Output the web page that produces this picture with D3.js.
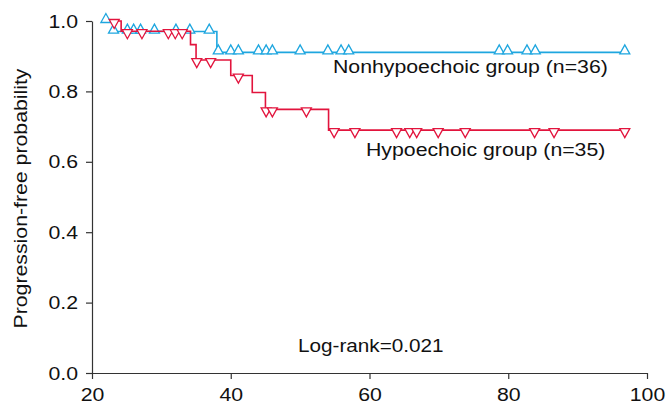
<!DOCTYPE html>
<meta charset="utf-8">
<head>
	<title>Progression-free probability</title>
	<script src="https://cdn.jsdelivr.net/npm/d3@7"></script>
	<style>
		body { margin: 0; background: #fff; }
		text { font-family: Arial, "Liberation Sans", sans-serif; fill: #111; }
		.axis path, .axis line { stroke: #333; stroke-width: 1.2; }
		.axis text { font-size: 19px; fill: #111; }
	</style>
</head>
<body>
<div id="chart"></div>
<script>
	// step points: [time, survival after this time]
	var blueSteps = [[22.0, 1.0], [23.0, 0.970], [38.0, 0.911]];
	var redSteps = [[23.2, 1.0], [24.2, 0.971], [34.2, 0.933], [35.0, 0.889], [40.0, 0.845], [43.1, 0.797], [45.0, 0.749], [54.1, 0.690]];
	var curveEnd = 96.8;

	// censored times (triangles)
	var blueCensor = [22.0, 23.1, 25.1, 26.0, 27.0, 29.0, 32.1, 34.1, 36.9,
		38.2, 40.0, 41.1, 44.0, 45.1, 46.0, 50.0, 54.0, 55.9, 57.0, 78.7, 79.9, 82.7, 83.9, 96.8];
	var redCensor = [23.2, 25.1, 27.2, 31.0, 32.0, 33.0, 35.1, 37.1, 41.1, 45.1, 46.0, 50.9,
		54.9, 57.9, 63.9, 65.8, 66.8, 69.9, 73.8, 83.8, 86.6, 96.8];

	var xTicks = [20, 40, 60, 80, 100];
	var yTicks = [0.0, 0.2, 0.4, 0.6, 0.8, 1.0];

	var w = 668, h = 403;
	var blue = "#1ea6df", red = "#e2143d";
	var stretch = 1.12; // the source text is a bit wider than Arial

	var svg = d3.select("#chart").append("svg").attr("width", w).attr("height", h);

	var x = d3.scaleLinear().domain([20, 100]).range([92, 647]);
	var y = d3.scaleLinear().domain([0, 1]).range([373, 21]);

	svg.append("g").attr("class", "axis")
		.attr("transform", "translate(0,373)")
		.call(d3.axisBottom(x).tickValues(xTicks).tickFormat(d3.format("d")).tickSize(6).tickSizeOuter(0).tickPadding(9))
		.selectAll("text").attr("transform", "scale(" + stretch + ",1)");

	svg.append("g").attr("class", "axis")
		.attr("transform", "translate(92,0)")
		.call(d3.axisLeft(y).tickValues(yTicks).tickFormat(d3.format(".1f")).tickSize(6).tickSizeOuter(0).tickPadding(8))
		.selectAll("text").attr("x", 0).attr("transform", "translate(-14,0) scale(" + stretch + ",1)");

	svg.append("text")
		.attr("transform", "translate(27,198.5) rotate(-90) scale(" + stretch + ",1)")
		.attr("text-anchor", "middle")
		.style("font-size", "19px")
		.text("Progression-free probability");

	function stepPoints(steps) {
		var pts = [];
		steps.forEach(function(s, i) {
			if (i > 0) pts.push([s[0], steps[i - 1][1]]);
			pts.push(s);
		});
		pts.push([curveEnd, steps[steps.length - 1][1]]);
		return pts;
	}

	function survAt(steps, t) {
		var s = steps[0][1];
		steps.forEach(function(d) { if (d[0] <= t) s = d[1]; });
		return s;
	}

	var line = d3.line().x(function(d) { return x(d[0]); }).y(function(d) { return y(d[1]); });

	function drawGroup(steps, censor, color, up) {
		svg.append("path")
			.attr("d", line(stepPoints(steps)))
			.attr("fill", "none")
			.attr("stroke", color)
			.attr("stroke-width", 1.6);

		svg.append("g").selectAll("path")
			.data(censor)
			.enter().append("path")
			.attr("d", function(t) {
				var cx = x(t), cy = y(survAt(steps, t));
				if (up) return "M" + (cx - 5) + "," + (cy + 1.5) + "L" + (cx + 5) + "," + (cy + 1.5) + "L" + cx + "," + (cy - 7.5) + "Z";
				return "M" + (cx - 5) + "," + (cy - 1.5) + "L" + (cx + 5) + "," + (cy - 1.5) + "L" + cx + "," + (cy + 7.5) + "Z";
			})
			.attr("fill", "white")
			.attr("stroke", color)
			.attr("stroke-width", 1.3);
	}

	drawGroup(blueSteps, blueCensor, blue, true);
	drawGroup(redSteps, redCensor, red, false);

	function label(tx, ty, size, s) {
		svg.append("text")
			.attr("transform", "translate(" + tx + "," + ty + ") scale(" + stretch + ",1)")
			.style("font-size", size)
			.text(s);
	}
	label(333, 73, "19px", "Nonhypoechoic group (n=36)");
	label(366, 156, "19px", "Hypoechoic group (n=35)");
	label(298, 352, "18.5px", "Log-rank=0.021");
</script>
</body>
</html>
